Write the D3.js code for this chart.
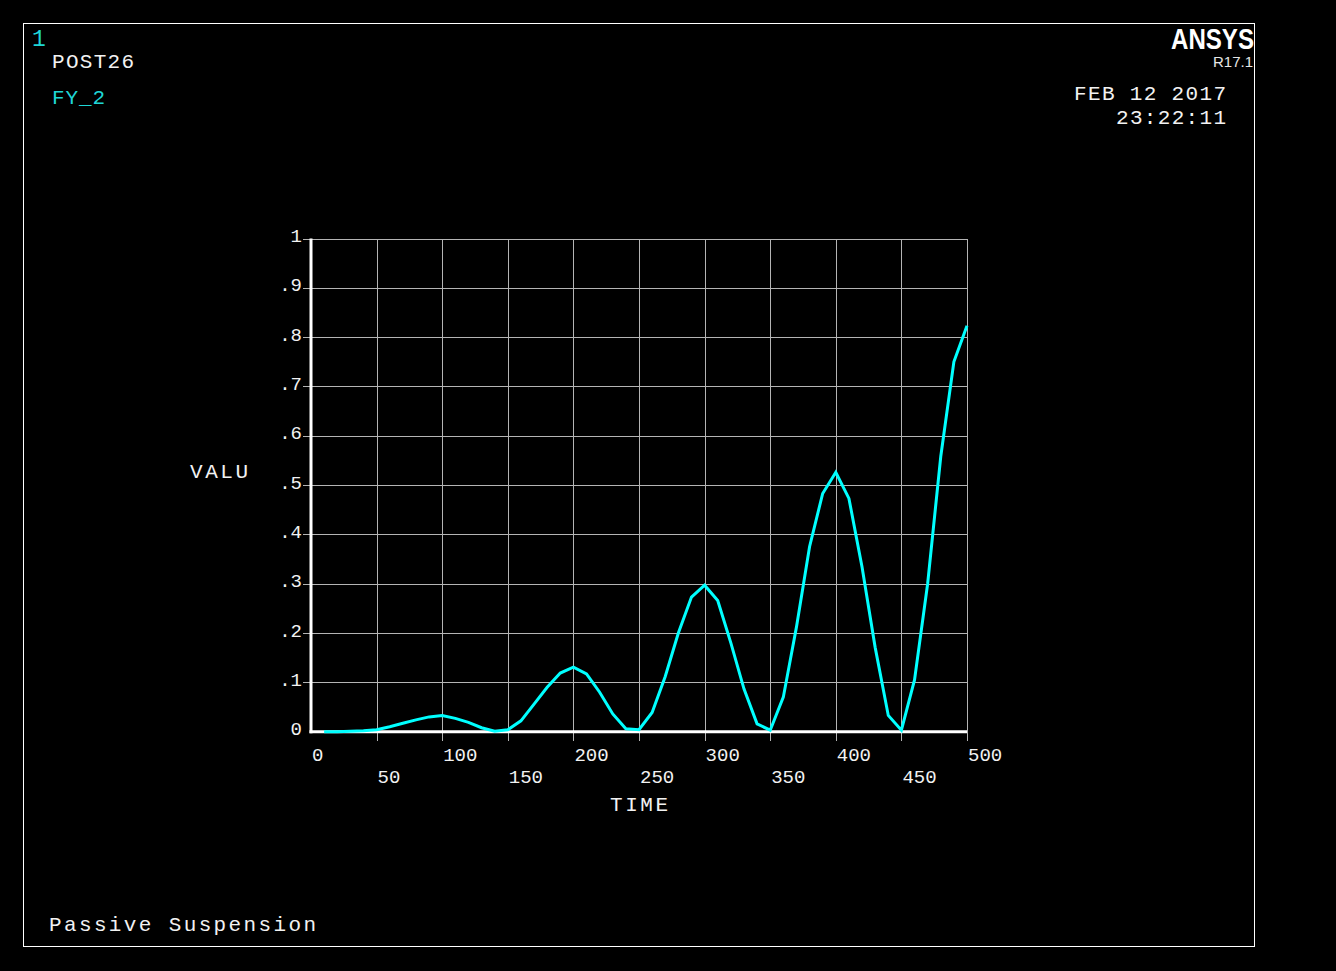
<!DOCTYPE html>
<html>
<head>
<meta charset="utf-8">
<script src="https://cdn.jsdelivr.net/npm/d3@7"></script>
<style>
  html, body { margin: 0; padding: 0; background: #000; }
  svg { display: block; }
  text { font-family: "Liberation Mono", "DejaVu Sans Mono", monospace; }
</style>
</head>
<body>
<script>
// ---- data ----
const time = [10, 20, 30, 40, 50, 60, 70, 80, 90, 100,
              110, 120, 130, 140, 150, 160, 170, 180, 190, 200,
              210, 220, 230, 240, 250, 260, 270, 280, 290, 300,
              310, 320, 330, 340, 350, 360, 370, 380, 390, 400,
              410, 420, 430, 440, 450, 460, 470, 480, 490, 500];
const fy2 = [0.000, 0.000, 0.001, 0.002, 0.004, 0.010, 0.017, 0.024, 0.030, 0.033,
             0.027, 0.019, 0.008, 0.001, 0.004, 0.022, 0.056, 0.090, 0.119, 0.131,
             0.117, 0.080, 0.036, 0.006, 0.004, 0.039, 0.112, 0.200, 0.273, 0.297,
             0.266, 0.180, 0.087, 0.016, 0.003, 0.070, 0.212, 0.375, 0.483, 0.526,
             0.473, 0.334, 0.171, 0.033, 0.003, 0.105, 0.300, 0.558, 0.750, 0.823];
const xTicks = [0, 50, 100, 150, 200, 250, 300, 350, 400, 450, 500];
const yTicks = [0, 0.1, 0.2, 0.3, 0.4, 0.5, 0.6, 0.7, 0.8, 0.9, 1];
const yTickLabels = ["0", ".1", ".2", ".3", ".4", ".5", ".6", ".7", ".8", ".9", "1"];

const W = 1336, H = 971;
const svg = d3.select("body").append("svg").attr("width", W).attr("height", H);
svg.append("rect").attr("width", W).attr("height", H).attr("fill", "#000");

// frame
svg.append("rect").attr("x", 23.5).attr("y", 23.5).attr("width", 1231).attr("height", 923)
  .attr("fill", "none").attr("stroke", "#fff").attr("stroke-width", 1);

const x = d3.scaleLinear().domain([0, 500]).range([311, 967]);
const y = d3.scaleLinear().domain([0, 1]).range([731.7, 238.5]);

const grid = svg.append("g").attr("stroke", "#b4b4b4").attr("stroke-width", 1).attr("shape-rendering", "crispEdges");
// vertical grid + ticks below axis
grid.selectAll("line.v").data(xTicks.filter(d => d > 0)).join("line")
  .attr("x1", d => Math.round(x(d)) + 0.5).attr("x2", d => Math.round(x(d)) + 0.5)
  .attr("y1", y(1)).attr("y2", y(0) + 9);
// horizontal grid + ticks left of axis
grid.selectAll("line.h").data(yTicks.filter(d => d > 0)).join("line")
  .attr("x1", 303).attr("x2", x(500))
  .attr("y1", d => Math.round(y(d)) + 0.5).attr("y2", d => Math.round(y(d)) + 0.5);

// axes
svg.append("line").attr("x1", x(0)).attr("x2", x(0)).attr("y1", y(1)).attr("y2", y(0) + 1.5)
  .attr("stroke", "#fff").attr("stroke-width", 3);
svg.append("line").attr("x1", x(0) - 1.5).attr("x2", x(500)).attr("y1", y(0)).attr("y2", y(0))
  .attr("stroke", "#fff").attr("stroke-width", 3);

// x tick labels (two staggered rows)
svg.append("g").selectAll("text").data(xTicks).join("text")
  .attr("x", d => x(d) + 1)
  .attr("y", d => (d % 100 === 0) ? 761 : 783)
  .attr("fill", "#f2f2f2").attr("font-size", 19)
  .text(d => d);

// y tick labels
svg.append("g").selectAll("text").data(yTicks).join("text")
  .attr("x", 302).attr("y", d => y(d) + 3.5)
  .attr("text-anchor", "end")
  .attr("fill", "#f2f2f2").attr("font-size", 19)
  .text((d, i) => yTickLabels[i]);

// axis titles
svg.append("text").attr("x", 639).attr("y", 811).attr("text-anchor", "middle")
  .attr("fill", "#f2f2f2").attr("font-size", 21).attr("textLength", 58).text("TIME");
svg.append("text").attr("x", 190).attr("y", 478)
  .attr("fill", "#f2f2f2").attr("font-size", 21).attr("textLength", 58).text("VALU");

// curve
const line = d3.line().x((d, i) => x(time[i])).y(d => y(d));
svg.append("path").datum(fy2).attr("d", line)
  .attr("fill", "none").attr("stroke", "#00ffff").attr("stroke-width", 3)
  .attr("stroke-linejoin", "miter");

// header texts
svg.append("text").attr("x", 32).attr("y", 46).attr("fill", "#1fd6d6").attr("font-size", 23).text("1");
svg.append("text").attr("x", 52).attr("y", 68).attr("fill", "#f2f2f2").attr("font-size", 21)
  .attr("textLength", 82).text("POST26");
svg.append("text").attr("x", 52).attr("y", 104).attr("fill", "#1fd6d6").attr("font-size", 21)
  .attr("textLength", 53).text("FY_2");

svg.append("text").attr("x", 1171).attr("y", 49).attr("fill", "#fff")
  .style("font-family", "'Liberation Sans', Arial, sans-serif").attr("font-weight", "bold")
  .attr("font-size", 29).attr("textLength", 83).attr("lengthAdjust", "spacingAndGlyphs").text("ANSYS");
svg.append("text").attr("x", 1253).attr("y", 67).attr("text-anchor", "end").attr("fill", "#e6e6e6")
  .style("font-family", "'Liberation Sans', Arial, sans-serif")
  .attr("font-size", 15).text("R17.1");

svg.append("text").attr("x", 1074).attr("y", 100).attr("fill", "#f2f2f2").attr("font-size", 21)
  .attr("textLength", 152).text("FEB 12 2017");
svg.append("text").attr("x", 1116).attr("y", 124).attr("fill", "#f2f2f2").attr("font-size", 21)
  .attr("textLength", 110).text("23:22:11");

svg.append("text").attr("x", 49).attr("y", 931).attr("fill", "#f2f2f2").attr("font-size", 21)
  .attr("textLength", 267).text("Passive Suspension");
</script>
</body>
</html>
